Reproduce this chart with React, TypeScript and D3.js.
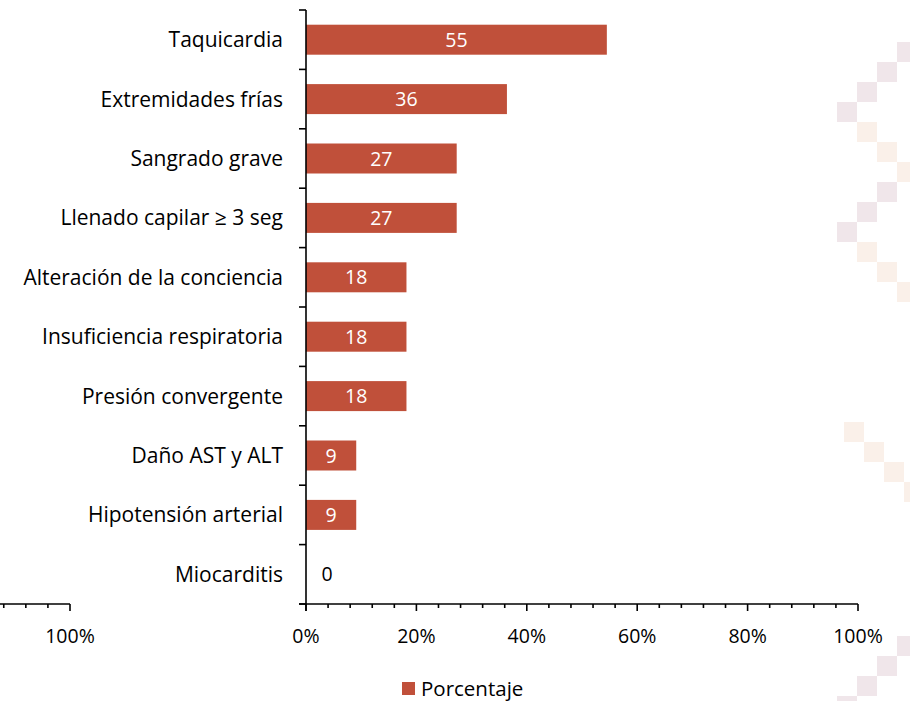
import React, { useRef, useEffect } from 'react';
import * as d3 from 'd3';

const WIDTH = 910;
const HEIGHT = 701;

// n/11 patients -> percent
const categories = [
  'Taquicardia',
  'Extremidades frías',
  'Sangrado grave',
  'Llenado capilar ≥ 3 seg',
  'Alteración de la conciencia',
  'Insuficiencia respiratoria',
  'Presión convergente',
  'Daño AST y ALT',
  'Hipotensión arterial',
  'Miocarditis',
];
const values = [54.5, 36.4, 27.3, 27.3, 18.2, 18.2, 18.2, 9.1, 9.1, 0];
const labels = ['55', '36', '27', '27', '18', '18', '18', '9', '9', '0'];
const majorTicks = [0, 20, 40, 60, 80, 100];
const minorTicks = d3.range(0, 101, 4);
const seriesName = 'Porcentaje';

// faint watermark squares on the right edge: [col, row] in 20px cells
const pinkCells = [[3, 2], [2, 3], [1, 4], [0, 5], [2, 9], [1, 10], [0, 11], [3, 31.7], [2, 32.7], [1, 33.7], [0, 34.7]];
const beigeCells = [[1, 6], [2, 7], [3, 8], [1, 12], [2, 13], [3, 14], [0.35, 21], [1.35, 22], [2.35, 23], [3.35, 24]];

const BAR_COLOR = '#C0503A';
const FONT = '"Open Sans", sans-serif';
const FS_TEXT = '21px';
const FS_NUM = '19.5px';

const App: React.FC = () => {
  const svgRef = useRef<SVGSVGElement>(null);

  useEffect(() => {
    if (!svgRef.current) return;
    const svg = d3.select(svgRef.current);
    svg.selectAll('*').remove();

    // background decoration
    const cell = 20;
    const cx0 = 837;
    svg.append('g')
      .selectAll('rect.pink')
      .data(pinkCells)
      .join('rect')
      .attr('x', (d) => cx0 + d[0] * cell)
      .attr('y', (d) => 42 + (d[1] - 2) * cell)
      .attr('width', cell)
      .attr('height', cell)
      .attr('fill', '#F0E6EA');
    svg.append('g')
      .selectAll('rect.beige')
      .data(beigeCells)
      .join('rect')
      .attr('x', (d) => cx0 + d[0] * cell)
      .attr('y', (d) => 42 + (d[1] - 2) * cell)
      .attr('width', cell)
      .attr('height', cell)
      .attr('fill', '#FAF0E9');

    const x = d3.scaleLinear().domain([0, 100]).range([306, 858]);
    const y = d3.scaleBand().domain(categories).range([10, 604]).paddingInner(0.495).paddingOuter(0.2475);
    const yBands = d3.scaleBand().domain(categories).range([10, 604]);
    const axisY = 604;

    // bars
    svg.append('g')
      .selectAll('rect')
      .data(values)
      .join('rect')
      .attr('x', x(0))
      .attr('y', (_, i) => y(categories[i])!)
      .attr('width', (d) => x(d) - x(0))
      .attr('height', y.bandwidth())
      .attr('fill', BAR_COLOR);

    // value labels
    svg.append('g')
      .selectAll('text')
      .data(values)
      .join('text')
      .attr('x', (d) => (d > 0 ? (x(0) + x(d)) / 2 : x(0) + 21))
      .attr('y', (_, i) => y(categories[i])! + y.bandwidth() / 2)
      .attr('dy', '0.36em')
      .attr('text-anchor', 'middle')
      .attr('fill', (d) => (d > 0 ? '#FFFFFF' : '#000000'))
      .attr('font-size', FS_NUM)
      .attr('font-family', FONT)
      .text((_, i) => labels[i]);

    // category labels
    svg.append('g')
      .selectAll('text')
      .data(categories)
      .join('text')
      .attr('x', 283)
      .attr('y', (d) => yBands(d)! + yBands.bandwidth() / 2)
      .attr('dy', '0.36em')
      .attr('text-anchor', 'end')
      .attr('fill', '#000')
      .attr('font-size', FS_TEXT)
      .attr('font-family', FONT)
      .text((d) => d);

    const axis = svg.append('g').attr('stroke', '#000').attr('stroke-width', 1.6);

    // y axis line + boundary ticks
    axis.append('line').attr('x1', 306).attr('x2', 306).attr('y1', 10).attr('y2', axisY + 7);
    const bounds = categories.map((c) => yBands(c)!).concat([604]);
    axis.selectAll('line.yt')
      .data(bounds)
      .join('line')
      .attr('x1', 299)
      .attr('x2', 306)
      .attr('y1', (d) => d)
      .attr('y2', (d) => d);

    // x axis line + ticks
    axis.append('line').attr('x1', 299).attr('x2', x(100)).attr('y1', axisY).attr('y2', axisY);
    axis.selectAll('line.minor')
      .data(minorTicks)
      .join('line')
      .attr('x1', (d) => x(d))
      .attr('x2', (d) => x(d))
      .attr('y1', axisY)
      .attr('y2', (d) => (majorTicks.includes(d) ? axisY + 7 : axisY + 4));

    svg.append('g')
      .selectAll('text')
      .data(majorTicks)
      .join('text')
      .attr('x', (d) => x(d))
      .attr('y', 643)
      .attr('text-anchor', 'middle')
      .attr('fill', '#000')
      .attr('font-size', FS_NUM)
      .attr('font-family', FONT)
      .text((d) => `${d}%`);

    // cropped neighbouring chart axis at far left
    const xLeft = d3.scaleLinear().domain([0, 100]).range([70 - 552, 70]);
    axis.append('line').attr('x1', 0).attr('x2', xLeft(100)).attr('y1', axisY).attr('y2', axisY);
    axis.selectAll('line.lt')
      .data(minorTicks.filter((d) => xLeft(d) >= 0))
      .join('line')
      .attr('x1', (d) => xLeft(d))
      .attr('x2', (d) => xLeft(d))
      .attr('y1', axisY)
      .attr('y2', (d) => (majorTicks.includes(d) ? axisY + 7 : axisY + 4));
    svg.append('text')
      .attr('x', xLeft(100))
      .attr('y', 643)
      .attr('text-anchor', 'middle')
      .attr('fill', '#000')
      .attr('font-size', FS_NUM)
      .attr('font-family', FONT)
      .text('100%');

    // legend
    const lg = svg.append('g').attr('transform', 'translate(402, 682)');
    lg.append('rect').attr('width', 13).attr('height', 13).attr('fill', BAR_COLOR);
    lg.append('text')
      .attr('x', 19)
      .attr('y', 7)
      .attr('dy', '0.36em')
      .attr('fill', '#000')
      .attr('font-size', '20.5px')
      .attr('font-family', FONT)
      .text(seriesName);
  }, []);

  return (
    <div style={{ position: 'absolute', left: 0, top: 0 }}>
      <svg ref={svgRef} width={WIDTH} height={HEIGHT} style={{ display: 'block', background: '#fff' }} />
    </div>
  );
};

export default App;
